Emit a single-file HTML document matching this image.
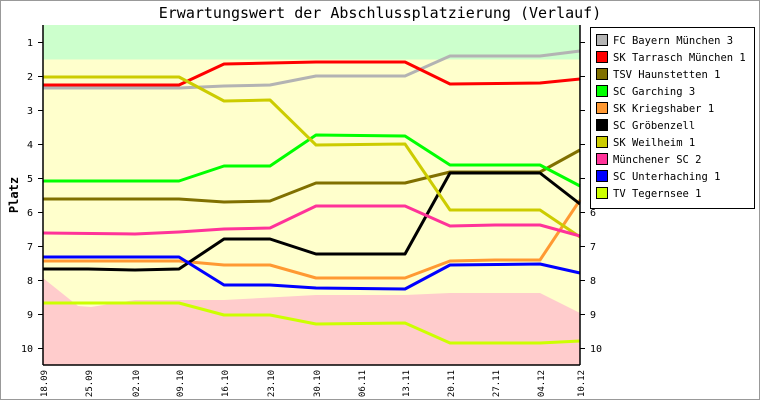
<!DOCTYPE html>
<html><head><meta charset="utf-8"><style>
body{margin:0;background:#fff}
svg{display:block}
text{font-family:"DejaVu Sans Mono","Liberation Mono",monospace}
</style></head><body>
<svg width="760" height="400" xmlns="http://www.w3.org/2000/svg">
<rect x="0.5" y="0.5" width="759" height="399" fill="#fff" stroke="#999"/>
<text x="380" y="18" font-size="15" text-anchor="middle">Erwartungswert der Abschlussplatzierung (Verlauf)</text>
<rect x="43" y="25" width="537" height="340" fill="#ffffcc"/>
<rect x="43" y="25" width="537" height="34.5" fill="#ccffcc"/>
<polygon fill="#ffcccc" points="43,278 78,306 91,307 135,300 224,300 316,295 405,295 450,293 540,293 580,313 580,365 43,365"/>
<g fill="none" stroke-width="3" stroke-linejoin="round">
<polyline stroke="#b3b3b3" points="43,88 179,88 224,86 270,85 316,76 405,76 450,56 540,56 580,51"/>
<polyline stroke="#ff0000" points="43,85 179,85 224,64 316,62 405,62 450,84 540,83 580,79"/>
<polyline stroke="#807000" points="43,199 179,199 224,202 270,201 316,183 405,183 450,172 540,172 580,150"/>
<polyline stroke="#00ff00" points="43,181 179,181 224,166 270,166 316,135 405,136 450,165 540,165 580,186"/>
<polyline stroke="#ff9933" points="43,261 179,261 224,265 270,265 316,278 405,278 450,261 495,260 540,260 580,200"/>
<polyline stroke="#000000" points="43,269 88,269 135,270 179,269 224,239 270,239 316,254 405,254 450,173 540,173 580,204"/>
<polyline stroke="#cccc00" points="43,77 179,77 224,101 270,100 316,145 405,144 450,210 540,210 580,237"/>
<polyline stroke="#ff3399" points="43,233 135,234 179,232 224,229 270,228 316,206 405,206 450,226 495,225 540,225 580,236"/>
<polyline stroke="#0000ff" points="43,257 179,257 224,285 270,285 316,288 405,289 450,265 540,264 580,273"/>
<polyline stroke="#ccff00" points="43,303 179,303 224,315 270,315 316,324 405,323 450,343 540,343 580,341"/>
</g>
<g stroke="#000" stroke-width="1.5">
<line x1="43" y1="25" x2="43" y2="365"/><line x1="580" y1="25" x2="580" y2="365"/><line x1="43" y1="365" x2="580" y2="365"/>
</g>
<g stroke="#000" stroke-width="1">
<line x1="38" y1="42.5" x2="43" y2="42.5"/><line x1="38" y1="76.5" x2="43" y2="76.5"/><line x1="38" y1="110.5" x2="43" y2="110.5"/><line x1="38" y1="144.5" x2="43" y2="144.5"/><line x1="38" y1="178.5" x2="43" y2="178.5"/><line x1="38" y1="212.5" x2="43" y2="212.5"/><line x1="38" y1="246.5" x2="43" y2="246.5"/><line x1="38" y1="280.5" x2="43" y2="280.5"/><line x1="38" y1="314.5" x2="43" y2="314.5"/><line x1="38" y1="348.5" x2="43" y2="348.5"/>
<line x1="580" y1="42.5" x2="585" y2="42.5"/><line x1="580" y1="76.5" x2="585" y2="76.5"/><line x1="580" y1="110.5" x2="585" y2="110.5"/><line x1="580" y1="144.5" x2="585" y2="144.5"/><line x1="580" y1="178.5" x2="585" y2="178.5"/><line x1="580" y1="212.5" x2="585" y2="212.5"/><line x1="580" y1="246.5" x2="585" y2="246.5"/><line x1="580" y1="280.5" x2="585" y2="280.5"/><line x1="580" y1="314.5" x2="585" y2="314.5"/><line x1="580" y1="348.5" x2="585" y2="348.5"/>
</g>
<g font-size="10" text-anchor="end">
<text x="33" y="46">1</text><text x="33" y="80">2</text><text x="33" y="114">3</text><text x="33" y="148">4</text><text x="33" y="182">5</text><text x="33" y="216">6</text><text x="33" y="250">7</text><text x="33" y="284">8</text><text x="33" y="318">9</text><text x="33" y="352">10</text>
</g>
<g font-size="10" text-anchor="start">
<text x="590" y="46">1</text><text x="590" y="80">2</text><text x="590" y="114">3</text><text x="590" y="148">4</text><text x="590" y="182">5</text><text x="590" y="216">6</text><text x="590" y="250">7</text><text x="590" y="284">8</text><text x="590" y="318">9</text><text x="590" y="352">10</text>
</g>
<text transform="translate(18,195) rotate(-90)" font-size="12" font-weight="bold" text-anchor="middle">Platz</text>
<g font-size="9" text-anchor="end">
<text transform="translate(47,370) rotate(-90)">18.09</text>
<text transform="translate(92,370) rotate(-90)">25.09</text>
<text transform="translate(139,370) rotate(-90)">02.10</text>
<text transform="translate(183,370) rotate(-90)">09.10</text>
<text transform="translate(228,370) rotate(-90)">16.10</text>
<text transform="translate(274,370) rotate(-90)">23.10</text>
<text transform="translate(320,370) rotate(-90)">30.10</text>
<text transform="translate(365,370) rotate(-90)">06.11</text>
<text transform="translate(409,370) rotate(-90)">13.11</text>
<text transform="translate(454,370) rotate(-90)">20.11</text>
<text transform="translate(499,370) rotate(-90)">27.11</text>
<text transform="translate(544,370) rotate(-90)">04.12</text>
<text transform="translate(584,370) rotate(-90)">10.12</text>
</g>
<rect x="590.5" y="27.5" width="164" height="181" fill="#fff" stroke="#000"/>
<g stroke="#000" stroke-width="1">
<rect x="596.5" y="34.5" width="11" height="11" fill="#b3b3b3"/>
<rect x="596.5" y="51.5" width="11" height="11" fill="#ff0000"/>
<rect x="596.5" y="68.5" width="11" height="11" fill="#807000"/>
<rect x="596.5" y="85.5" width="11" height="11" fill="#00ff00"/>
<rect x="596.5" y="102.5" width="11" height="11" fill="#ff9933"/>
<rect x="596.5" y="119.5" width="11" height="11" fill="#000000"/>
<rect x="596.5" y="136.5" width="11" height="11" fill="#cccc00"/>
<rect x="596.5" y="153.5" width="11" height="11" fill="#ff3399"/>
<rect x="596.5" y="170.5" width="11" height="11" fill="#0000ff"/>
<rect x="596.5" y="187.5" width="11" height="11" fill="#ccff00"/>
</g>
<g font-size="10.5">
<text x="613" y="44">FC Bayern München 3</text>
<text x="613" y="61">SK Tarrasch München 1</text>
<text x="613" y="78">TSV Haunstetten 1</text>
<text x="613" y="95">SC Garching 3</text>
<text x="613" y="112">SK Kriegshaber 1</text>
<text x="613" y="129">SC Gröbenzell</text>
<text x="613" y="146">SK Weilheim 1</text>
<text x="613" y="163">Münchener SC 2</text>
<text x="613" y="180">SC Unterhaching 1</text>
<text x="613" y="197">TV Tegernsee 1</text>
</g>
</svg>
</body></html>
